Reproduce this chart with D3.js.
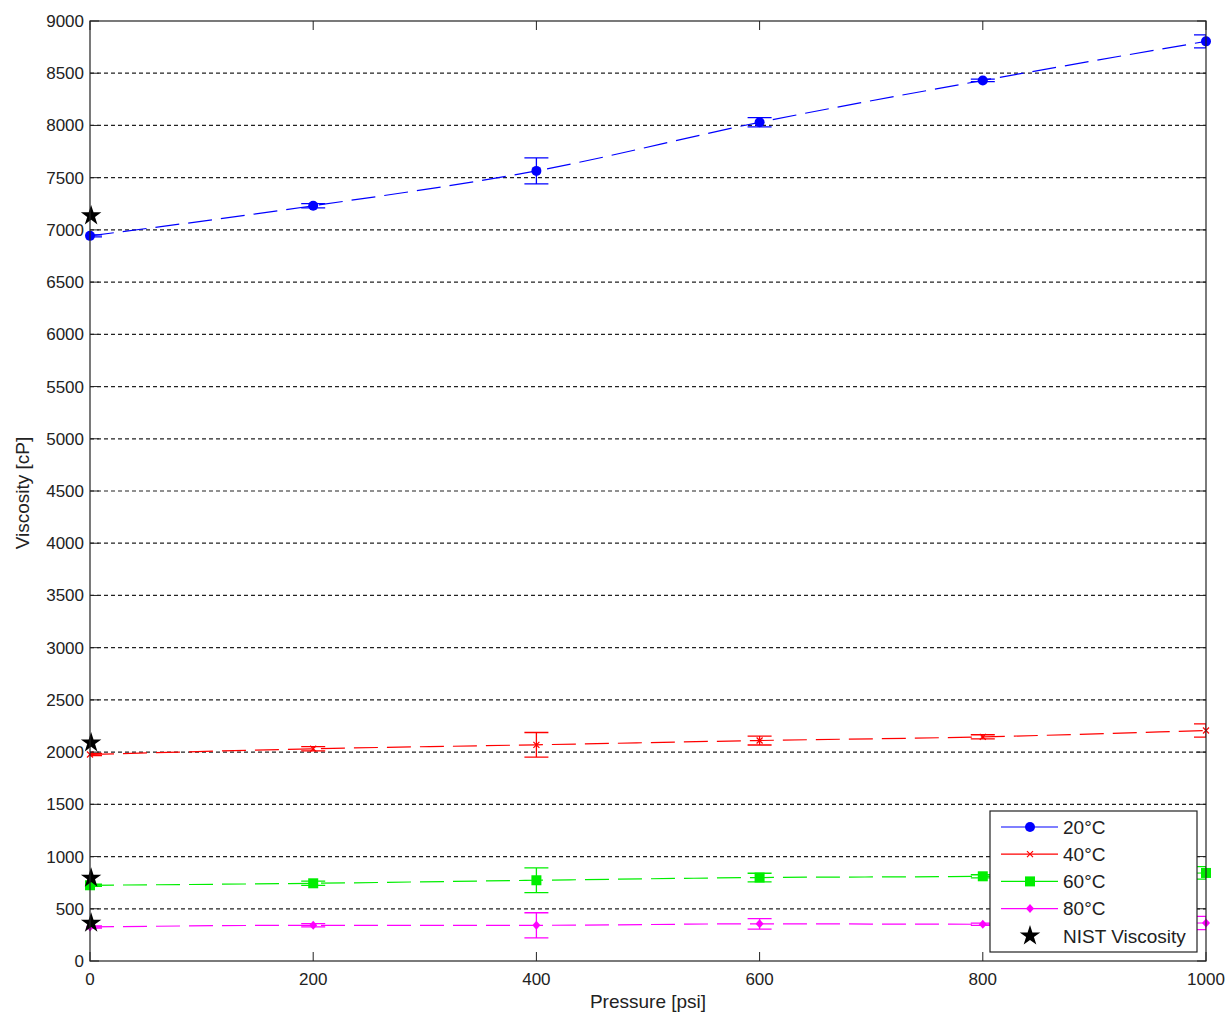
<!DOCTYPE html>
<html>
<head>
	<title>viscosity</title>
	<script type="text/javascript" src="https://d3js.org/d3.v7.min.js"></script>
	<style type="text/css">
		body{ margin: 0; background: #fff; }
		text{ font-family: "Liberation Sans", Arial, sans-serif; fill: #222; }
		.tick-label{ font-size: 17px; }
		.axis-title{ font-size: 19px; }
		.legend-text{ font-size: 19px; }
	</style>
</head>
<body>
<svg width="1229" height="1012"></svg>
<script type="text/javascript">
	// 数据
	var pressure = [0, 200, 400, 600, 800, 1000];
	var series = ["20°C", "40°C", "60°C", "80°C"];
	var visc20 = [6943, 7231, 7565, 8030, 8431, 8805];
	var visc40 = [1977, 2032, 2070, 2111, 2146, 2207];
	var visc60 = [725, 744, 773, 799, 811, 843];
	var visc80 = [326, 342, 342, 356, 352, 364];
	var err20 = [10, 20, 125, 44, 12, 63];
	var err40 = [10, 20, 118, 43, 20, 64];
	var err60 = [10, 20, 118, 41, 15, 60];
	var err80 = [10, 15, 120, 50, 10, 64];
	var nistP = [1, 1, 1, 1];
	var nistVisc = [7136, 2090, 795, 364];
	var xTicks = [0, 200, 400, 600, 800, 1000];
	var yTicks = d3.range(0, 9001, 500);

	var svg = d3.select("svg"),
	    margin = {top: 21, right: 23, bottom: 51, left: 90},
	    width = svg.attr("width") - margin.left - margin.right,
	    height = svg.attr("height") - margin.top - margin.bottom;

	var x = d3.scaleLinear().domain([0, 1000]).range([0, width]),
	    y = d3.scaleLinear().domain([0, 9000]).range([height, 0]);

	var g = svg.append("g").attr("transform", `translate(${margin.left},${margin.top})`);

	g.append("clipPath").attr("id", "clip")
		.append("rect").attr("width", width).attr("height", height);

	// 网格线
	g.append("g").selectAll("line").data(yTicks.filter((d) => d > 0 && d < 9000)).enter()
		.append("line")
		.attr("x1", 0).attr("x2", width)
		.attr("y1", (d) => y(d)).attr("y2", (d) => y(d))
		.attr("stroke", "#222").attr("stroke-width", 1.2)
		.attr("stroke-dasharray", "4,3");

	var colors = ["#0000ff", "#ff0000", "#00ee00", "#ff00ff"];
	var values = [visc20, visc40, visc60, visc80];
	var errs = [err20, err40, err60, err80];
	var markers = ["circle", "cross", "square", "diamond"];

	var line = d3.line().x((d) => x(d[0])).y((d) => y(d[1])).curve(d3.curveMonotoneX);

	function drawMarker(sel, type, color) {
		if (type === "circle") {
			sel.append("circle").attr("r", 5).attr("fill", color);
		} else if (type === "cross") {
			sel.append("path").attr("d", "M-3,-3L3,3M-3,3L3,-3").attr("stroke", color)
				.attr("stroke-width", 1.2).attr("fill", "none");
		} else if (type === "square") {
			sel.append("rect").attr("x", -5).attr("y", -5).attr("width", 10).attr("height", 10)
				.attr("fill", color);
		} else if (type === "diamond") {
			sel.append("path").attr("d", "M0,-4.5L4,0L0,4.5L-4,0Z").attr("fill", color);
		}
	}

	values.forEach((vals, si) => {
		var pts = pressure.map((p, i) => [p, vals[i], errs[si][i]]);
		var c = colors[si];
		var sg = g.append("g").attr("class", "series");
		sg.append("path").datum(pts)
			.attr("clip-path", "url(#clip)")
			.attr("fill", "none").attr("stroke", c).attr("stroke-width", 1.2)
			.attr("stroke-dasharray", "24,9")
			.attr("d", line);
		// 误差线
		var eb = sg.append("g").attr("clip-path", "url(#clip)");
		pts.forEach((d) => {
			var cx = x(d[0]), y1 = y(d[1] + d[2]), y2 = y(d[1] - d[2]);
			eb.append("path")
				.attr("d", `M${cx},${y1}V${y2}M${cx - 12},${y1}H${cx + 12}M${cx - 12},${y2}H${cx + 12}`)
				.attr("stroke", c).attr("stroke-width", 1.3).attr("fill", "none");
		});
		pts.forEach((d) => {
			var m = sg.append("g").attr("transform", `translate(${x(d[0])},${y(d[1])})`);
			drawMarker(m, markers[si], c);
		});
	});

	// NIST
	var star = d3.symbol(d3.symbolStar, 130)();
	g.append("g").selectAll("path").data(nistP).enter().append("path")
		.attr("d", star)
		.attr("transform", (d, i) => `translate(${x(d)},${y(nistVisc[i])})`)
		.attr("fill", "#000");

	// 坐标轴框
	g.append("rect").attr("width", width).attr("height", height)
		.attr("fill", "none").attr("stroke", "#222").attr("stroke-width", 1.2);

	var tickLen = 9;
	xTicks.forEach((t) => {
		g.append("line").attr("x1", x(t)).attr("x2", x(t)).attr("y1", height).attr("y2", height - tickLen)
			.attr("stroke", "#222");
		g.append("line").attr("x1", x(t)).attr("x2", x(t)).attr("y1", 0).attr("y2", tickLen)
			.attr("stroke", "#222");
		g.append("text").attr("class", "tick-label")
			.attr("x", x(t)).attr("y", height + 24)
			.attr("text-anchor", "middle").text(t);
	});
	yTicks.forEach((t) => {
		g.append("line").attr("x1", 0).attr("x2", tickLen).attr("y1", y(t)).attr("y2", y(t))
			.attr("stroke", "#222");
		g.append("line").attr("x1", width).attr("x2", width - tickLen).attr("y1", y(t)).attr("y2", y(t))
			.attr("stroke", "#222");
		g.append("text").attr("class", "tick-label")
			.attr("x", -6).attr("y", y(t)).attr("dy", "0.35em")
			.attr("text-anchor", "end").text(t);
	});

	g.append("text").attr("class", "axis-title")
		.attr("x", width / 2).attr("y", height + 47)
		.attr("text-anchor", "middle").text("Pressure [psi]");
	g.append("text").attr("class", "axis-title")
		.attr("transform", `translate(${-61},${height / 2 + 2}) rotate(-90)`)
		.attr("text-anchor", "middle").text("Viscosity [cP]");

	// 图例
	var lg = svg.append("g").attr("transform", "translate(990,811)");
	lg.append("rect").attr("width", 207).attr("height", 141)
		.attr("fill", "#fff").attr("stroke", "#222").attr("stroke-width", 1.2);
	var labels = series.concat(["NIST Viscosity"]);
	labels.forEach((name, i) => {
		var ly = 16 + i * 27.2;
		var item = lg.append("g").attr("transform", `translate(0,${ly})`);
		if (i < 4) {
			item.append("line").attr("x1", 11).attr("x2", 68).attr("y1", 0).attr("y2", 0)
				.attr("stroke", colors[i]).attr("stroke-width", 1.2);
			var m = item.append("g").attr("transform", "translate(40,0)");
			drawMarker(m, markers[i], colors[i]);
		} else {
			item.append("path").attr("d", star).attr("transform", "translate(40,0)").attr("fill", "#000");
		}
		item.append("text").attr("class", "legend-text")
			.attr("x", 73).attr("y", 0).attr("dy", "0.36em").text(name);
	});
</script>
</body>
</html>
